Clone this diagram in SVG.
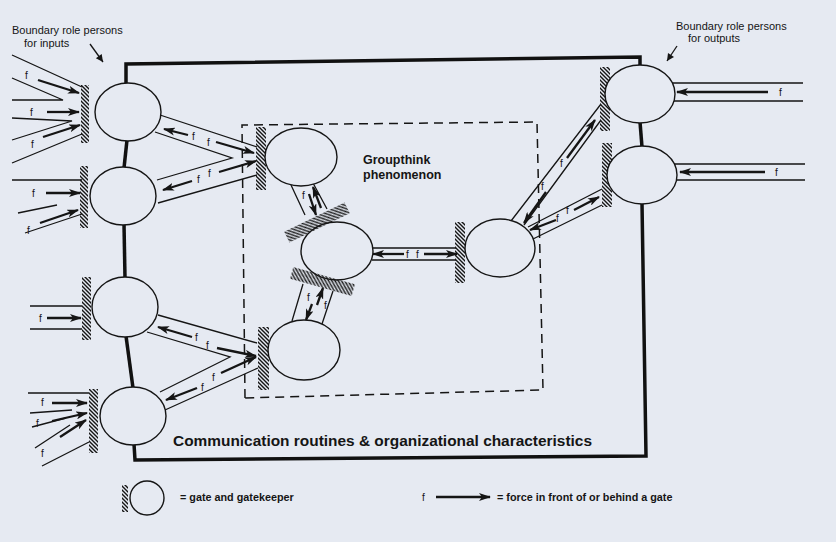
<svg xmlns="http://www.w3.org/2000/svg" width="836" height="542" viewBox="0 0 836 542">
<defs>
<pattern id="hatch" width="4" height="4" patternUnits="userSpaceOnUse"><path d="M-1,-1 L5,5 M-1,3 L1,5 M3,-1 L5,1" stroke="#151515" stroke-width="1.4"/></pattern>
<marker id="ah" viewBox="0 0 12 8" refX="11" refY="4" markerWidth="12" markerHeight="8" markerUnits="userSpaceOnUse" orient="auto"><path d="M0,0 L12,4 L0,8 L3,4 z" fill="#151515"/></marker>
<marker id="ao" viewBox="0 0 10 10" refX="9" refY="5" markerWidth="9" markerHeight="9" markerUnits="userSpaceOnUse" orient="auto"><path d="M1,1 L9,5 L1,9 z" fill="#151515"/></marker>
<style>
.ln{fill:none;stroke:#151515;stroke-width:1.3}
.fr{fill:none;stroke:#111;stroke-width:3.5}
.ds{fill:none;stroke:#151515;stroke-width:1.5;stroke-dasharray:9 6}
.ar{fill:none;stroke:#151515;stroke-width:2.3;marker-end:url(#ah)}
.nd{fill:#e6eaf2;stroke:#151515;stroke-width:1.4}
.gt{fill:url(#hatch)}
.f{font-family:"Liberation Sans",Arial,sans-serif;font-size:10px;fill:#151515}
.lb{font-family:"Liberation Sans",Arial,sans-serif;font-size:11px;fill:#151515}
.lg{font-family:"Liberation Sans",Arial,sans-serif;font-size:10.8px;font-weight:bold;fill:#151515}
.tt{font-family:"Liberation Sans",Arial,sans-serif;font-weight:bold;fill:#151515}
</style>
</defs>
<rect width="836" height="542" fill="#e6eaf2"/>

<g id="connectors">
<!-- frame -->
<path class="fr" d="M126,83 L126,64 L640,57 L640,66"/>
<path class="fr" d="M127,140 L124,168"/>
<path class="fr" d="M124,224 L125,278"/>
<path class="fr" d="M126,336 L133,388"/>
<path class="fr" d="M134,444 L135,460 L646,456 L642,203"/>
<path class="fr" d="M640,122 L642,147"/>
<!-- groupthink dashed box -->
<path class="ds" d="M245,398 L242,125 L537,122 L543,390 Z"/>

<!-- inputs L1 -->
<path class="ln" d="M12,55 L82,87 M12,78 L63,100 L12,100 M12,118 L72,121 L12,140 M12,163 L82,134"/>
<path class="ar" d="M38,80 L79,93"/>
<path class="ar" d="M47,112 L79,112"/>
<path class="ar" d="M43,137 L80,125"/>
<text class="f" x="25" y="79">f</text>
<text class="f" x="30" y="116">f</text>
<text class="f" x="31" y="148">f</text>
<!-- inputs L2 -->
<path class="ln" d="M12,180 L82,180 M18,213 L57,205 M25,233 L82,214"/>
<path class="ar" d="M46,193 L80,193"/>
<path class="ar" d="M40,223 L78,210"/>
<text class="f" x="32" y="197">f</text>
<text class="f" x="27" y="234">f</text>
<!-- inputs L3 -->
<path class="ln" d="M30,306 L82,306 M30,329 L82,329"/>
<path class="ar" d="M47,318 L81,318"/>
<text class="f" x="39" y="322">f</text>
<!-- inputs L4 -->
<path class="ln" d="M28,393 L89,393 M30,413 L72,410 M32,427 L66,418 M35,448 L70,425 M42,466 L89,442"/>
<path class="ar" d="M52,403 L87,403"/>
<path class="ar" d="M52,421 L87,413"/>
<path class="ar" d="M60,437 L86,420"/>
<text class="f" x="41" y="406">f</text>
<text class="f" x="36" y="427">f</text>
<text class="f" x="41" y="457">f</text>

<!-- L1/L2 <-> M1 -->
<path class="ln" d="M160,115 L257,147 M155,132 L232,158 L157,180 M158,203 L257,175"/>
<path class="ar" d="M188,135 L164,129"/>
<path class="ar" d="M216,142 L254,153"/>
<path class="ar" d="M219,172 L256,161"/>
<path class="ar" d="M192,181 L163,190"/>
<text class="f" x="192" y="140">f</text>
<text class="f" x="207" y="146">f</text>
<text class="f" x="208" y="177">f</text>
<text class="f" x="197" y="183">f</text>

<!-- L3/L4 <-> M3 -->
<path class="ln" d="M158,315 L257,343 M147,332 L230,357 L160,392 M165,410 L258,368"/>
<path class="ar" d="M192,337 L158,327"/>
<path class="ar" d="M217,348 L256,356"/>
<path class="ar" d="M221,373 L256,357"/>
<path class="ar" d="M197,388 L166,400"/>
<text class="f" x="195" y="341">f</text>
<text class="f" x="206" y="349">f</text>
<text class="f" x="212" y="381">f</text>
<text class="f" x="201" y="391">f</text>

<!-- M1 <-> M2 -->
<path class="ln" d="M291,185 L305,215 M313,183 L327,209"/>
<path class="ar" d="M321,208 L313,187"/>
<path class="ar" d="M309,194 L316,215"/>
<text class="f" x="302" y="199">f</text>
<!-- M2 <-> M3 -->
<path class="ln" d="M292,321 L303,284 M322,324 L333,291"/>
<path class="ar" d="M317,305 L323,288"/>
<path class="ar" d="M312,304 L306,320"/>
<text class="f" x="307" y="301">f</text>
<text class="f" x="324" y="309">f</text>
<!-- M2 <-> M4 -->
<path class="ln" d="M372,248 L456,248 M372,260 L456,260"/>
<path class="ar" d="M404,254 L373,254"/>
<path class="ar" d="M424,254 L457,254"/>
<text class="f" x="406" y="258">f</text>
<text class="f" x="416" y="258">f</text>

<!-- M4 <-> R1 -->
<path class="ln" d="M511,221 L601,104 M524,225 L601,120"/>
<path class="ar" d="M567,158 L595,120"/>
<path class="ar" d="M546,192 L524,223"/>
<text class="f" x="560" y="167">f</text>
<text class="f" x="541" y="190">f</text>
<!-- M4 <-> R2 -->
<path class="ln" d="M528,227 L602,189 M533,239 L602,205"/>
<path class="ar" d="M574,210 L599,197"/>
<path class="ar" d="M556,220 L530,230"/>
<text class="f" x="566" y="214">f</text>
<text class="f" x="556" y="222">f</text>

<!-- outputs -->
<path class="ln" d="M672,83 L803,83 M672,101 L803,101"/>
<path class="ar" d="M768,92 L677,92"/>
<text class="f" x="779" y="96">f</text>
<path class="ln" d="M674,164 L805,164 M674,180 L805,180"/>
<path class="ar" d="M765,172 L680,172"/>
<text class="f" x="775" y="176">f</text>

<!-- label pointers -->
<path class="ln" d="M90,44 L103,62" style="marker-end:url(#ao)"/>
<path class="ln" d="M677,46 L667,61" style="marker-end:url(#ao)"/>
</g>

<g id="L1"><rect class="gt" x="81" y="85" width="8" height="58"/><ellipse class="nd" cx="128" cy="112" rx="33" ry="29"/></g>
<g id="L2"><rect class="gt" x="80" y="166" width="8" height="62"/><ellipse class="nd" cx="123" cy="196" rx="33" ry="29"/></g>
<g id="L3"><rect class="gt" x="82" y="277" width="9" height="63"/><ellipse class="nd" cx="125" cy="307" rx="33" ry="30"/></g>
<g id="L4"><rect class="gt" x="89" y="389" width="9" height="64"/><ellipse class="nd" cx="133" cy="416" rx="33" ry="29"/></g>
<g id="M1"><rect class="gt" x="256" y="127" width="10" height="63"/><ellipse class="nd" cx="301" cy="157" rx="36" ry="29"/></g>
<g id="M2">
<ellipse class="nd" cx="337" cy="251" rx="36" ry="29"/>
<rect class="gt" x="-33.5" y="-6" width="67" height="12" transform="translate(317,222.5) rotate(-25.8)"/>
<rect class="gt" x="-32" y="-6" width="64" height="12" transform="translate(322.5,281.5) rotate(15.6)"/>
</g>
<g id="M3"><rect class="gt" x="258" y="327" width="11" height="63"/><ellipse class="nd" cx="304" cy="350" rx="36" ry="30"/></g>
<g id="M4"><rect class="gt" x="455" y="222" width="10" height="61"/><ellipse class="nd" cx="500" cy="248" rx="35" ry="29"/></g>
<g id="R1"><rect class="gt" x="600" y="67" width="10" height="64"/><ellipse class="nd" cx="640" cy="94" rx="35" ry="29"/></g>
<g id="R2"><rect class="gt" x="602" y="143" width="10" height="64"/><ellipse class="nd" cx="642" cy="175" rx="35" ry="29"/></g>

<g id="labels">
<text class="lb" x="12" y="34">Boundary role persons</text>
<text class="lb" x="24" y="47">for inputs</text>
<text class="lb" x="676" y="30">Boundary role persons</text>
<text class="lb" x="688" y="42">for outputs</text>
<text class="tt" x="363" y="164" font-size="12.5">Groupthink</text>
<text class="tt" x="363" y="179" font-size="12.5">phenomenon</text>
<text class="tt" x="173" y="446" font-size="15" textLength="419" lengthAdjust="spacingAndGlyphs">Communication routines &amp; organizational characteristics</text>
</g>

<g id="legend">
<rect class="gt" x="122" y="485" width="6" height="27"/>
<circle cx="147" cy="498" r="17" fill="none" stroke="#151515" stroke-width="1.4"/>
<text class="lg" x="180" y="501">= gate and gatekeeper</text>
<text class="f" x="422" y="501">f</text>
<path class="ar" d="M436,497 L490,497"/>
<text class="lg" x="497" y="501">= force in front of or behind a gate</text>
</g>
</svg>
